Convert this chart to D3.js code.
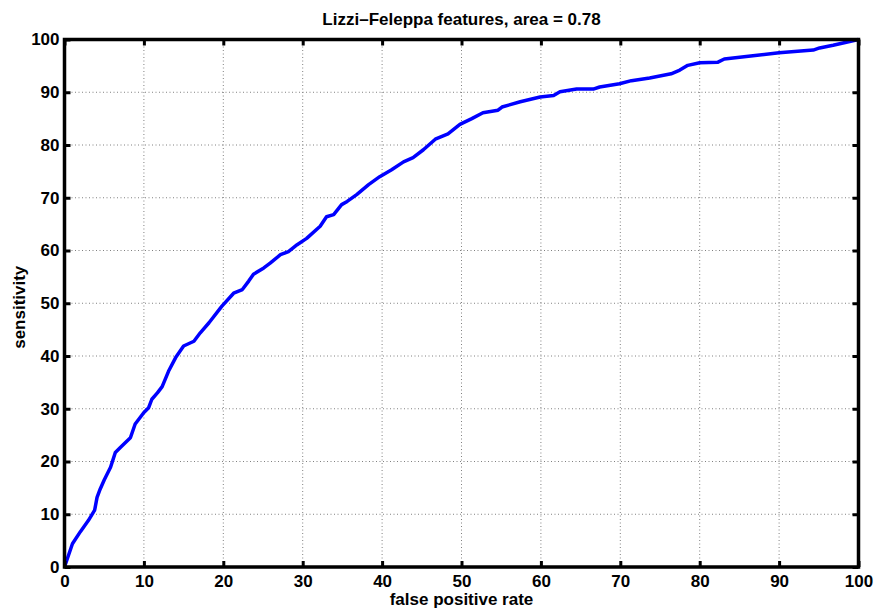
<!DOCTYPE html>
<html>
<head>
<meta charset="utf-8">
<script src="https://cdn.jsdelivr.net/npm/d3@7"></script>
<style>
  body { margin: 0; background: #fff; }
  text { font-family: "Liberation Sans", Arial, Helvetica, sans-serif; font-weight: bold; fill: #000; }
</style>
</head>
<body>
<div id="chart"></div>
<script>
// ROC curve (percent)
const fpr = [0, 1.0, 2.0, 3.0, 3.8, 4.1, 4.5, 5.0, 5.8, 6.4, 7.0, 8.3, 8.9, 10.0, 10.6, 11.0,
  11.7, 12.3, 13.1, 14.0, 15.0, 16.3, 17.1, 18.2, 19.8, 21.3, 22.4, 23.2, 23.8, 25.1, 25.9,
  27.2, 28.2, 29.3, 30.5, 32.2, 33.0, 33.9, 34.9, 35.6, 36.8, 38.3, 39.7, 41.2, 42.7, 43.9,
  45.2, 46.7, 48.3, 49.8, 51.3, 52.7, 54.6, 55.1, 57.4, 59.9, 61.6, 62.4, 64.5, 66.6, 67.4,
  69.9, 71.4, 73.7, 76.4, 77.5, 78.5, 80.0, 82.3, 83.1, 86.7, 90.0, 94.3, 95.1, 96.8, 100];
const sensitivity = [0, 4.4, 6.7, 8.8, 10.8, 13.2, 14.8, 16.5, 18.9, 21.7, 22.6, 24.5, 27.1, 29.3, 30.2, 31.8,
  33.0, 34.2, 37.1, 39.7, 41.9, 42.8, 44.4, 46.3, 49.4, 51.9, 52.6, 54.2, 55.5, 56.7, 57.6,
  59.2, 59.8, 61.1, 62.3, 64.6, 66.4, 66.8, 68.7, 69.3, 70.6, 72.5, 74.0, 75.3, 76.8, 77.6,
  79.1, 81.1, 82.1, 83.9, 85.0, 86.1, 86.6, 87.2, 88.2, 89.1, 89.4, 90.1, 90.6, 90.6, 91.0,
  91.6, 92.2, 92.7, 93.5, 94.2, 95.1, 95.6, 95.7, 96.3, 96.9, 97.5, 98.0, 98.4, 98.9, 100];
const ticks = [0, 10, 20, 30, 40, 50, 60, 70, 80, 90, 100];
const title = 'Lizzi\u2013Feleppa features, area = 0.78';

const width = 877, height = 611;
const margin = { top: 39.5, right: 18.5, bottom: 44, left: 64.5 };
const w = width - margin.left - margin.right;
const h = height - margin.top - margin.bottom;

const svg = d3.select('#chart')
  .append('svg')
  .attr('width', width)
  .attr('height', height);

const g = svg.append('g')
  .attr('transform', 'translate(' + margin.left + ',' + margin.top + ')');

const x = d3.scaleLinear().domain([0, 100]).range([0, w]);
const y = d3.scaleLinear().domain([0, 100]).range([h, 0]);

// dotted grid
g.append('g')
  .selectAll('line')
  .data(ticks.slice(1, -1))
  .join('line')
  .attr('x1', d => x(d)).attr('x2', d => x(d))
  .attr('y1', 0).attr('y2', h)
  .attr('stroke', '#808080')
  .attr('stroke-width', 1)
  .attr('stroke-dasharray', '1,2.5');

g.append('g')
  .selectAll('line')
  .data(ticks.slice(1, -1))
  .join('line')
  .attr('y1', d => y(d)).attr('y2', d => y(d))
  .attr('x1', 0).attr('x2', w)
  .attr('stroke', '#808080')
  .attr('stroke-width', 1)
  .attr('stroke-dasharray', '1,2.5');

// roc curve
const pts = fpr.map((d, i) => [d, sensitivity[i]]);
g.append('path')
  .datum(pts)
  .attr('fill', 'none')
  .attr('stroke', '#0000ff')
  .attr('stroke-width', 3.5)
  .attr('stroke-linejoin', 'round')
  .attr('d', d3.line().x(d => x(d[0])).y(d => y(d[1])));

// axes with inward ticks
const fmt = d3.format('d');
const styleAxis = sel => {
  sel.selectAll('.domain').remove();
  sel.selectAll('.tick line').attr('stroke', '#000').attr('stroke-width', 3);
  sel.selectAll('.tick text').style('font-size', '17px');
};

g.append('g')
  .attr('transform', 'translate(0,' + h + ')')
  .call(d3.axisBottom(x).tickValues(ticks).tickFormat(fmt).tickSizeInner(-6).tickPadding(8))
  .call(styleAxis);

g.append('g')
  .call(d3.axisLeft(y).tickValues(ticks).tickFormat(fmt).tickSizeInner(-6).tickPadding(5))
  .call(styleAxis);

g.append('g')
  .call(d3.axisTop(x).tickValues(ticks).tickFormat('').tickSizeInner(-6))
  .call(styleAxis);

g.append('g')
  .attr('transform', 'translate(' + w + ',0)')
  .call(d3.axisRight(y).tickValues(ticks).tickFormat('').tickSizeInner(-6))
  .call(styleAxis);

// box
g.append('rect')
  .attr('width', w)
  .attr('height', h)
  .attr('fill', 'none')
  .attr('stroke', '#000')
  .attr('stroke-width', 3.5);

// labels
svg.append('text')
  .attr('x', margin.left + w / 2)
  .attr('y', 25)
  .attr('text-anchor', 'middle')
  .style('font-size', '17px')
  .text(title);

svg.append('text')
  .attr('x', margin.left + w / 2)
  .attr('y', 605)
  .attr('text-anchor', 'middle')
  .style('font-size', '17px')
  .text('false positive rate');

svg.append('text')
  .attr('transform', 'translate(25,' + (margin.top + h / 2 + 4) + ') rotate(-90)')
  .attr('text-anchor', 'middle')
  .style('font-size', '17px')
  .text('sensitivity');
</script>
</body>
</html>
